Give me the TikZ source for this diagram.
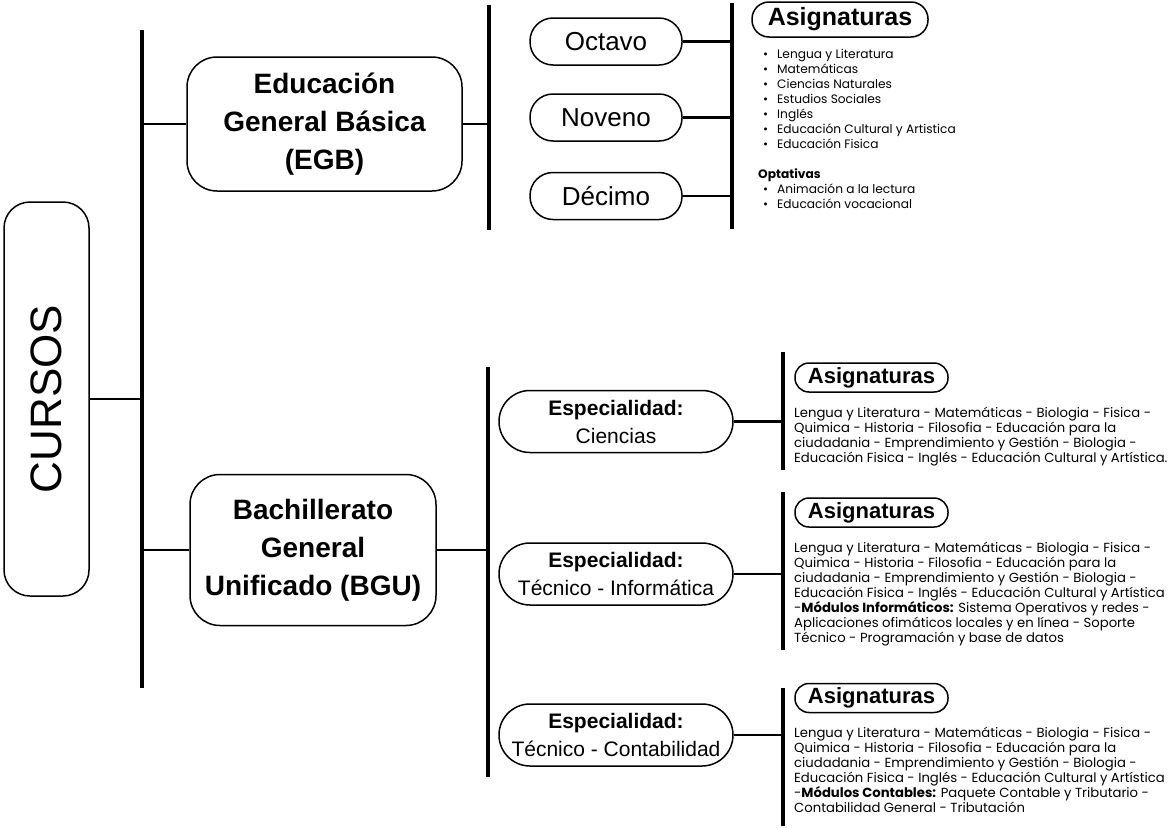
\documentclass[tikz,border=0pt]{standalone}
\usepackage{fontspec}
\setmainfont{Liberation Sans}
\newfontfamily\popfont{Poppins}
\usepackage{graphicx}
\usetikzlibrary{positioning}

\newcommand{\bul}{\makebox[23pt][c]{\textbullet}}

\begin{document}
\begin{tikzpicture}[x=1pt,y=-1pt,line join=round,
                    box/.style={draw,line width=1.5pt,align=center,inner sep=0pt},
                    bar/.style={line width=3.5pt},
                    link/.style={line width=2.8pt}]

  \tikzstyle{grado} = [box,rounded corners=23pt,minimum width=152pt,minimum height=47pt,
                       font=\fontsize{26}{30}\selectfont]
  \tikzstyle{espec} = [box,rounded corners=31pt,minimum width=234pt,minimum height=62pt,
                       font=\fontsize{21}{28}\selectfont]
  \tikzstyle{asig}  = [box,rounded corners=14pt,minimum width=153pt,minimum height=29pt,
                       font=\bfseries\fontsize{22}{26}\selectfont]
  \tikzstyle{lista} = [align=left,inner sep=0pt,anchor=north west,
                       font=\popfont\fontsize{13.2}{15}\selectfont]

  \path[use as bounding box] (0,0) rectangle (1171,828);

  \node[box,rounded corners=26pt,minimum width=85pt,minimum height=394pt,
        font=\fontsize{44}{50}\selectfont] (cursos) at (46.5,399) {\rotatebox{90}{CURSOS}};
  \node[box,rounded corners=30pt,minimum width=275pt,minimum height=134pt,
        font=\bfseries\fontsize{28}{38}\selectfont] (egb) at (324.5,124)
        {Educación\\General Básica\\(EGB)};
  \node[box,rounded corners=30pt,minimum width=246pt,minimum height=151pt,
        font=\bfseries\fontsize{28}{38}\selectfont] (bgu) at (313,550)
        {Bachillerato\\General\\Unificado (BGU)};

  \node[grado] (octavo) at (606,41.5)       {Octavo};
  \node[grado] (noveno) [below=27.5pt of octavo] {Noveno};
  \node[grado] (decimo) [below=30pt of noveno]   {Décimo};

  \node[espec] (cie) at (616,421.5)          {\textbf{Especialidad:}\\Ciencias};
  \node[espec] (inf) [below=89pt of cie]     {\textbf{Especialidad:}\\Técnico - Informática};
  \node[espec] (con) [below=97.5pt of inf]   {\textbf{Especialidad:}\\Técnico - Contabilidad};

  \node[asig,minimum width=176pt,minimum height=35pt,rounded corners=17pt,
        font=\bfseries\fontsize{25}{30}\selectfont] (egb-asig) at (840,19.5) {Asignaturas};
  \node[asig] (cie-asig) at (871.5,377.5) {Asignaturas};
  \node[asig] (inf-asig) at (871.5,512.5) {Asignaturas};
  \node[asig] (con-asig) at (871.5,698)   {Asignaturas};

  \node[lista,font=\popfont\fontsize{12.2}{15}\selectfont] (egb-txt) at (754,49)
    {\bul Lengua y Literatura\\ \bul Matemáticas\\ \bul Ciencias Naturales\\
     \bul Estudios Sociales\\ \bul Inglés\\ \bul Educación Cultural y Artistica\\
     \bul Educación Fisica\\[15pt]
     \hspace{4pt}\textbf{Optativas}\\ \bul Animación a la lectura\\ \bul Educación vocacional};
  \node[lista] (cie-txt) at (794,407)
    {Lengua y Literatura - Matemáticas - Biologia - Fisica -\\
     Quimica - Historia - Filosofia - Educación para la\\
     ciudadania - Emprendimiento y Gestión - Biologia -\\
     Educación Fisica - Inglés - Educación Cultural y Artística.};
  \node[lista] (inf-txt) at (794,542)
    {Lengua y Literatura - Matemáticas - Biologia - Fisica -\\
     Quimica - Historia - Filosofia - Educación para la\\
     ciudadania - Emprendimiento y Gestión - Biologia -\\
     Educación Fisica - Inglés - Educación Cultural y Artística\\
     -\textbf{Módulos Informáticos:} Sistema Operativos y redes -\\
     Aplicaciones ofimáticos locales y en línea - Soporte\\
     Técnico - Programación y base de datos};
  \node[lista] (con-txt) at (794,727)
    {Lengua y Literatura - Matemáticas - Biologia - Fisica -\\
     Quimica - Historia - Filosofia - Educación para la\\
     ciudadania - Emprendimiento y Gestión - Biologia -\\
     Educación Fisica - Inglés - Educación Cultural y Artística\\
     -\textbf{Módulos Contables:} Paquete Contable y Tributario -\\
     Contabilidad General - Tributación};

  \coordinate (main-top) at (142,30);  \coordinate (main-bot) at (142,688);
  \coordinate (egb-top)  at (489,5);   \coordinate (egb-bot)  at (489,230);
  \coordinate (gra-top)  at (732,3);   \coordinate (gra-bot)  at (732,229);
  \coordinate (bgu-top)  at (488,367); \coordinate (bgu-bot)  at (488,777);
  \coordinate (cie-top)  at (783,352); \coordinate (cie-bot)  at (783,470);
  \coordinate (inf-top)  at (783,492); \coordinate (inf-bot)  at (783,650);
  \coordinate (con-top)  at (783,688); \coordinate (con-bot)  at (783,826);

  \foreach \b in {main,egb,gra,bgu,cie,inf,con}
    \draw[bar] (\b-top) -- (\b-bot);

  \draw[link] (cursos.east) -- (cursos.east -| main-top)
              (egb.west) -- (egb.west -| main-top)
              (bgu.west) -- (bgu.west -| main-top)
              (egb.east) -- (egb.east -| egb-top)
              (bgu.east) -- (bgu.east -| bgu-top)
              (octavo.east) -- (octavo.east -| gra-top)
              (noveno.east) -- (noveno.east -| gra-top)
              (decimo.east) -- (decimo.east -| gra-top)
              (cie.east) -- (cie.east -| cie-top)
              (inf.east) -- (inf.east -| inf-top)
              (con.east) -- (con.east -| con-top);

\end{tikzpicture}
\end{document}
